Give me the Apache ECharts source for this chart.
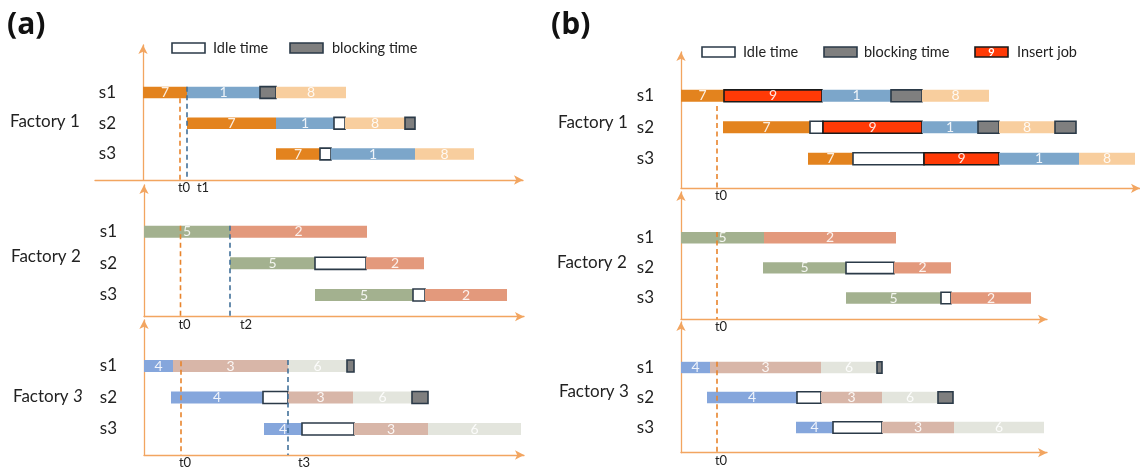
<!DOCTYPE html>
<html>
<head>
<meta charset="utf-8">
<script src="https://cdn.jsdelivr.net/npm/echarts@6/dist/echarts.min.js"></script>
<style>
  html, body { margin: 0; padding: 0; background: #fff; }
  #main { width: 1140px; height: 473px; }
</style>
</head>
<body>
<div id="main"></div>
<script>
// machines (stages) in each factory
const stages = ['s1', 's2', 's3'];

// operations: [stage index, start, end, job]  -- 'idle' / 'block' are gaps
// (a) schedule before the new job arrives
const a1Jobs = [
    [0, 0, 44, 7], [0, 44, 117, 1], [0, 117, 133, 'block'], [0, 133, 203, 8],
    [1, 44, 133, 7], [1, 133, 191, 1], [1, 191, 202, 'idle'], [1, 202, 262, 8], [1, 262, 272, 'block'],
    [2, 133, 177, 7], [2, 177, 188, 'idle'], [2, 188, 272, 1], [2, 272, 331, 8],
];
const a2Jobs = [
    [0, 0, 86, 5], [0, 86, 223, 2],
    [1, 86, 171, 5], [1, 171, 222, 'idle'], [1, 222, 280, 2],
    [2, 171, 269, 5], [2, 269, 281, 'idle'], [2, 281, 363, 2],
];
const a3Jobs = [
    [0, 0, 29, 4], [0, 29, 144, 3], [0, 144, 203, 6], [0, 203, 210, 'block'],
    [1, 27, 119, 4], [1, 119, 144, 'idle'], [1, 144, 209, 3], [1, 209, 268, 6], [1, 268, 284, 'block'],
    [2, 120, 158, 4], [2, 158, 210, 'idle'], [2, 210, 284, 3], [2, 284, 377, 6],
];
// (b) schedule after inserting job 9
const b1Jobs = [
    [0, 0, 43, 7], [0, 43, 141, 9], [0, 141, 210, 1], [0, 210, 241, 'block'], [0, 241, 308, 8],
    [1, 42, 129, 7], [1, 129, 142, 'idle'], [1, 142, 241, 9], [1, 241, 297, 1], [1, 297, 318, 'block'], [1, 318, 374, 8], [1, 374, 395, 'block'],
    [2, 127, 172, 7], [2, 172, 243, 'idle'], [2, 243, 318, 9], [2, 318, 398, 1], [2, 398, 454, 8],
];
const b2Jobs = [
    [0, 0, 83, 5], [0, 83, 215, 2],
    [1, 82, 165, 5], [1, 165, 213, 'idle'], [1, 213, 270, 2],
    [2, 165, 260, 5], [2, 260, 270, 'idle'], [2, 270, 350, 2],
];
const b3Jobs = [
    [0, 0, 29, 4], [0, 29, 140, 3], [0, 140, 196, 6], [0, 196, 201, 'block'],
    [1, 26, 116, 4], [1, 116, 140, 'idle'], [1, 140, 201, 3], [1, 201, 257, 6], [1, 257, 272, 'block'],
    [2, 115, 152, 4], [2, 152, 201, 'idle'], [2, 201, 273, 3], [2, 273, 363, 6],
];

// time marks: [name, time, drawn from stage position]
const a1Marks = [['t0', 37, 0.19], ['t1', 44, -0.19]];
const a2Marks = [['t0', 36.5, -0.19], ['t2', 86, -0.19]];
const a3Marks = [['t0', 37, -0.15], ['t3', 144, -0.19]];
const b1Marks = [['t0', 36, 0.32]];
const b2Marks = [['t0', 36, -0.19]];
const b3Marks = [['t0', 36, -0.19]];

const jobColor = {
    1: '#7CA6CA', 2: '#E3997C', 3: '#D8B6A8', 4: '#85A6DC', 5: '#A3B18F',
    6: '#E3E5DD', 7: '#E3831E', 8: '#F8CE9E', 9: '#FF3A06'
};
const axisColor = '#F2A560';
const edgeColor = '#2B3A48';
const font = 'Lato, "Open Sans", sans-serif';

// one entry per factory chart
const factories = [
    { jobs: a1Jobs, marks: a1Marks, grid: [95, 45, 428, 135], x: [-48, 380], y: [-1.545, 2.845] },
    { jobs: a2Jobs, marks: a2Marks, grid: [144, 185, 380, 131.7], x: [0, 380], y: [-1.475, 2.686] },
    { jobs: a3Jobs, marks: a3Marks, grid: [144, 320, 380, 135], x: [0, 380], y: [-1.46, 2.825] },
    { jobs: b1Jobs, marks: b1Marks, grid: [681, 52, 459, 136.3], x: [0, 459], y: [-1.393, 2.94] },
    { jobs: b2Jobs, marks: b2Marks, grid: [681, 192, 366, 127.3], x: [0, 366], y: [-1.522, 2.708] },
    { jobs: b3Jobs, marks: b3Marks, grid: [681, 322, 366, 130.7], x: [0, 366], y: [-1.517, 2.84] },
];

const drawJobs = (jobs) => (params, api) => {
    const d = jobs[params.dataIndex];
    const a = api.coord([d[1], d[0]]);
    const b = api.coord([d[2], d[0]]);
    const h = api.size([0, 1])[1] * 0.38;
    const kind = d[3];
    const rect = {
        type: 'rect',
        shape: { x: a[0], y: a[1] - h / 2, width: b[0] - a[0], height: h },
    };
    if (kind === 'idle') {
        rect.style = { fill: '#fff', stroke: edgeColor, lineWidth: 1.6 };
    } else if (kind === 'block') {
        rect.style = { fill: '#7F7F7F', stroke: edgeColor, lineWidth: 1.6 };
    } else {
        rect.style = { fill: jobColor[kind] };
        if (kind === 9) {
            rect.style.stroke = '#1A1A1A';
            rect.style.lineWidth = 1.6;
        }
        rect.textContent = {
            style: { text: String(kind), fill: 'rgba(255,255,255,0.88)', font: '14px ' + font }
        };
        rect.textConfig = { position: 'inside' };
    }
    return rect;
};

const drawMarks = (marks) => (params, api) => {
    const m = marks[params.dataIndex];
    const p = api.coord([m[1], m[2]]);
    const bottom = params.coordSys.y + params.coordSys.height;
    const col = m[0] === 't0' ? '#E8842C' : '#41719A';
    return {
        type: 'group',
        children: [
            {
                type: 'line',
                shape: { x1: p[0], y1: p[1], x2: p[0], y2: bottom },
                style: { stroke: col, lineWidth: 1.6, lineDash: [5, 3.5] }
            },
            {
                type: 'text',
                x: p[0] + (m[0] === 't0' ? 4 : 16),
                y: bottom + 8,
                style: { text: m[0], font: '13px ' + font, fill: '#222', align: 'center', verticalAlign: 'middle' }
            }
        ]
    };
};

const grid = [], xAxis = [], yAxis = [], series = [];
factories.forEach((f, i) => {
    const left = f.grid[0], width = f.grid[2];
    // y axis sits where time = 0
    const shift = (0 - f.x[0]) / (f.x[1] - f.x[0]) * width;
    grid.push({ left: left, top: f.grid[1], width: width, height: f.grid[3] });
    xAxis.push({
        gridIndex: i, type: 'value', min: f.x[0], max: f.x[1],
        axisLine: { onZero: false, lineStyle: { color: axisColor, width: 1.3 }, symbol: ['none', 'arrow'], symbolSize: [7, 9] },
        axisTick: { show: false }, axisLabel: { show: false }, splitLine: { show: false }
    });
    yAxis.push({
        gridIndex: i, type: 'value', inverse: true, min: f.y[0], max: f.y[1], minInterval: 1,
        offset: -shift,
        axisLine: { show: true, onZero: false, lineStyle: { color: axisColor, width: 1.3 }, symbol: ['none', 'arrow'], symbolSize: [7, 9] },
        axisTick: { show: false }, splitLine: { show: false },
        axisLabel: {
            margin: 27, color: '#222', fontSize: 17, fontFamily: font,
            formatter: (v) => stages[v] || ''
        }
    });
    series.push({
        type: 'custom', xAxisIndex: i, yAxisIndex: i, z: 2,
        renderItem: drawJobs(f.jobs),
        encode: { x: [0, 1], y: 2 },
        data: f.jobs.map((d) => [d[1], d[2], d[0]])
    });
    series.push({
        type: 'custom', xAxisIndex: i, yAxisIndex: i, z: 3,
        renderItem: drawMarks(f.marks),
        encode: { x: 0, y: 1 },
        data: f.marks.map((m) => [m[1], m[2]])
    });
});

const legendBox = (x, y, fill, stroke) => ({
    type: 'rect', shape: { x: x, y: y, width: 33, height: 10 },
    style: { fill: fill, stroke: stroke, lineWidth: 1.6 }
});
const legendText = (x, y, text) => ({
    type: 'text', x: x, y: y,
    style: { text: text, font: '14.5px ' + font, fill: '#222', verticalAlign: 'middle' }
});
const plainText = (x, y, text) => ({
    type: 'text', x: x, y: y,
    style: { text: text, font: '17px ' + font, fill: '#222', verticalAlign: 'middle' }
});

const graphic = [
    { type: 'text', x: 7, y: 25, style: { text: '(a)', font: 'bold 30px "Open Sans", sans-serif', fill: '#111', verticalAlign: 'middle' } },
    { type: 'text', x: 551, y: 25, style: { text: '(b)', font: 'bold 30px "Open Sans", sans-serif', fill: '#111', verticalAlign: 'middle' } },
    legendBox(172, 43, '#fff', edgeColor), legendText(213, 48, 'Idle time'),
    legendBox(290, 43, '#7F7F7F', edgeColor), legendText(332, 48, 'blocking time'),
    legendBox(702, 47, '#fff', edgeColor), legendText(743, 52, 'Idle time'),
    legendBox(824, 47, '#7F7F7F', edgeColor), legendText(864, 52, 'blocking time'),
    legendBox(975, 47, '#FF3A06', '#1A1A1A'),
    { type: 'text', x: 991.5, y: 52.5, style: { text: '9', font: 'bold 11px ' + font, fill: '#fff', align: 'center', verticalAlign: 'middle' } },
    legendText(1017, 52, 'Insert job'),
    plainText(10, 122, 'Factory 1'),
    plainText(11, 257, 'Factory 2'),
    {
        type: 'text', x: 13, y: 397,
        style: {
            text: 'Factory {i|3}', font: '17px ' + font, fill: '#222', verticalAlign: 'middle',
            rich: { i: { fontStyle: 'italic', fontSize: 17, fontFamily: font, fill: '#222' } }
        }
    },
    plainText(558, 123, 'Factory 1'),
    plainText(557, 263, 'Factory 2'),
    plainText(559, 392, 'Factory 3'),
];

const myChart = echarts.init(document.getElementById('main'));
myChart.setOption({
    animation: false,
    backgroundColor: '#fff',
    grid: grid,
    xAxis: xAxis,
    yAxis: yAxis,
    series: series,
    graphic: graphic
});
window.addEventListener('resize', () => {
    myChart.resize();
});
</script>
</body>
</html>
